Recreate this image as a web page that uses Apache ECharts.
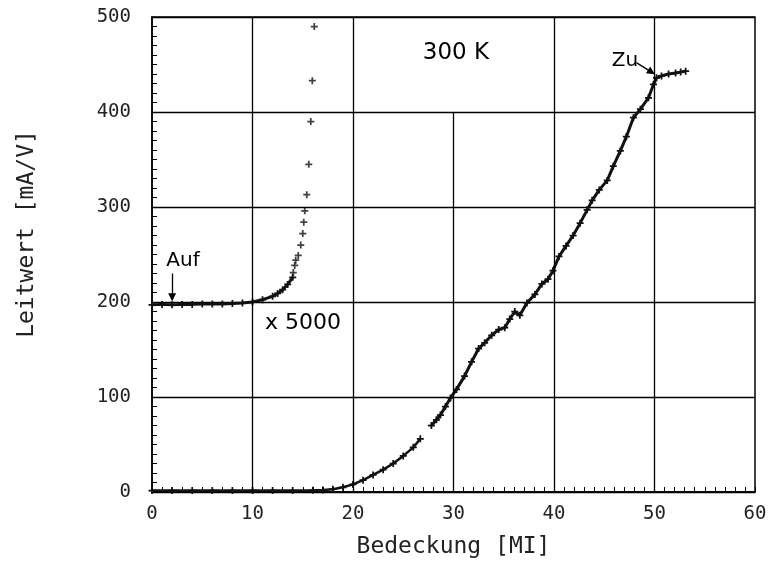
<!DOCTYPE html>
<html>
<head>
<meta charset="utf-8">
<style>
  html, body { margin: 0; padding: 0; background: #fff; }
  #chart { width: 772px; height: 566px; }
</style>
<script src="https://cdn.jsdelivr.net/npm/echarts/dist/echarts.min.js"></script>
</head>
<body>
<div id="chart"></div>
<script>
// Leitwert vs. Bedeckung at 300 K
const xTicks = [0, 10, 20, 30, 40, 50, 60]
const yTicks = [0, 100, 200, 300, 400, 500]

// vertical grid lines, the one at 30 stops at 400 (under the "300 K" label)
const xGridAt = [10, 20, 30, 40, 50]
const xGridTop = [500, 500, 400, 500, 500]

// curve enlarged x 5000: dense band first, then the single points
const scaledBand = [
  [0, 197], [1, 197.5], [2, 197], [3, 197.5], [4, 197.5], [5, 198], [6, 198],
  [7, 198], [8, 198.5], [9, 199], [10, 200], [11, 202.5], [12, 206],
  [12.5, 209], [13, 213], [13.5, 218.5], [14, 226]
]
const scaledPoints = [
  [14.06, 231], [14.2, 238.5], [14.3, 244], [14.55, 249], [14.8, 260],
  [15.0, 272], [15.1, 284], [15.2, 296], [15.4, 313], [15.6, 345],
  [15.8, 390], [15.95, 433], [16.15, 490]
]

// measured curve, two parts with a gap between 26.7 and 27.8
const lowerPart = [
  [0, 1.5], [2, 1.5], [4, 1.5], [6, 1.5], [8, 1.5], [10, 1.5], [12, 1.5],
  [14, 1.5], [16, 1.8], [17, 2.2], [18, 3], [19, 5], [20, 8], [21, 12.5],
  [22, 18], [23, 23.5], [24, 30], [25, 38], [26, 47], [26.7, 56]
]
const upperPart = [
  [27.8, 70], [28.3, 76], [28.7, 81], [29.2, 90], [29.7, 99], [30.3, 108],
  [31.1, 122], [31.8, 137], [32.5, 151], [33.1, 157], [33.8, 165], [34.5, 171],
  [35.1, 173], [35.6, 182], [36.1, 190], [36.6, 186], [37.3, 199], [38.1, 208],
  [38.8, 219], [39.4, 224], [39.9, 233], [40.5, 248], [41.2, 259], [41.9, 270],
  [42.6, 283], [43.3, 297], [43.8, 307], [44.5, 318], [45.3, 328], [45.9, 343],
  [46.6, 359], [47.2, 374], [47.9, 394], [48.6, 403], [49.4, 415], [49.9, 429],
  [50.2, 436], [50.7, 438], [51.4, 440], [52.1, 441], [52.6, 442], [53.1, 443]
]

// annotation arrows [from, to] in data units
const aufArrow = [[2, 230], [2, 205]]
const zuArrow = [[48.2, 452], [49.7, 442]]

const plus = 'path://M3,0h2v3h3v2h-3v3h-2v-3h-3v-2h3z'
const ink = '#111'
const tickFont = 'DejaVu Sans Mono'

function curve(data, width) {
  return {
    type: 'line',
    data: data,
    z: 3,
    symbol: plus,
    symbolSize: 7,
    showSymbol: true,
    silent: true,
    lineStyle: { color: ink, width: width },
    itemStyle: { color: ink }
  }
}

function gridLines() {
  return xGridAt.map((x, i) => [
    { coord: [x, yTicks[0]] },
    { coord: [x, xGridTop[i]] }
  ])
}

const chart = echarts.init(document.getElementById('chart'))

const option = {
  animation: false,
  backgroundColor: '#fff',
  grid: {
    left: 152,
    right: 17,
    top: 17,
    bottom: 74,
    show: true,
    borderColor: '#000',
    borderWidth: 1.5
  },
  xAxis: {
    type: 'value',
    min: xTicks[0],
    max: xTicks[xTicks.length - 1],
    interval: xTicks[1] - xTicks[0],
    axisLine: { show: true, lineStyle: { color: '#000', width: 1.5 } },
    axisTick: { show: true, inside: true, length: 5, lineStyle: { color: '#000' } },
    minorTick: { show: true, splitNumber: 10, length: 5, lineStyle: { color: '#000' } },
    splitLine: { show: false },
    axisLabel: { color: '#222', fontFamily: tickFont, fontSize: 19, margin: 13 },
    name: 'Bedeckung [MI]',
    nameLocation: 'middle',
    nameGap: 44,
    nameTextStyle: { color: '#222', fontFamily: tickFont, fontSize: 23 }
  },
  yAxis: {
    type: 'value',
    min: yTicks[0],
    max: yTicks[yTicks.length - 1],
    interval: yTicks[1] - yTicks[0],
    axisLine: { show: true, lineStyle: { color: '#000', width: 1.5 } },
    axisTick: { show: true, inside: true, length: 5, lineStyle: { color: '#000' } },
    minorTick: { show: true, splitNumber: 10, length: 5, lineStyle: { color: '#000' } },
    splitLine: { show: true, lineStyle: { color: '#000', width: 1.3 } },
    axisLabel: { color: '#222', fontFamily: tickFont, fontSize: 19, margin: 21 }
  },
  graphic: [
    {
      type: 'text', x: 27, y: 234, rotation: Math.PI / 2,
      style: { text: 'Leitwert [mA/V]', font: '23px "DejaVu Sans Mono"', fill: '#222', align: 'center', verticalAlign: 'middle' }
    },
    {
      type: 'text', x: 456, y: 53,
      style: { text: '300 K', font: '23px "DejaVu Sans"', fill: '#000', align: 'center', verticalAlign: 'middle' }
    },
    {
      type: 'text', x: 625, y: 61,
      style: { text: 'Zu', font: '20px "DejaVu Sans"', fill: '#000', align: 'center', verticalAlign: 'middle' }
    },
    {
      type: 'text', x: 183, y: 261,
      style: { text: 'Auf', font: '20px "DejaVu Sans"', fill: '#000', align: 'center', verticalAlign: 'middle' }
    },
    {
      type: 'text', x: 303, y: 323,
      style: { text: 'x 5000', font: '22px "DejaVu Sans"', fill: '#000', align: 'center', verticalAlign: 'middle' }
    }
  ],
  series: [
    {
      type: 'line',
      data: [],
      z: 1,
      silent: true,
      markLine: {
        silent: true,
        symbol: ['none', 'none'],
        label: { show: false },
        lineStyle: { color: '#000', width: 1.3, type: 'solid' },
        data: gridLines()
      }
    },
    {
      type: 'line',
      data: [],
      z: 4,
      silent: true,
      markLine: {
        silent: true,
        symbol: ['none', 'triangle'],
        symbolSize: 8,
        label: { show: false },
        lineStyle: { color: '#000', width: 1.3, type: 'solid' },
        data: [
          [{ coord: aufArrow[0] }, { coord: aufArrow[1] }],
          [{ coord: zuArrow[0] }, { coord: zuArrow[1] }]
        ]
      }
    },
    curve(scaledBand, 3),
    {
      type: 'scatter',
      data: scaledPoints,
      z: 3,
      symbol: plus,
      symbolSize: 7,
      silent: true,
      itemStyle: { color: ink }
    },
    curve(lowerPart, 2.5),
    curve(upperPart, 3)
  ]
}

chart.setOption(option)
</script>
</body>
</html>
